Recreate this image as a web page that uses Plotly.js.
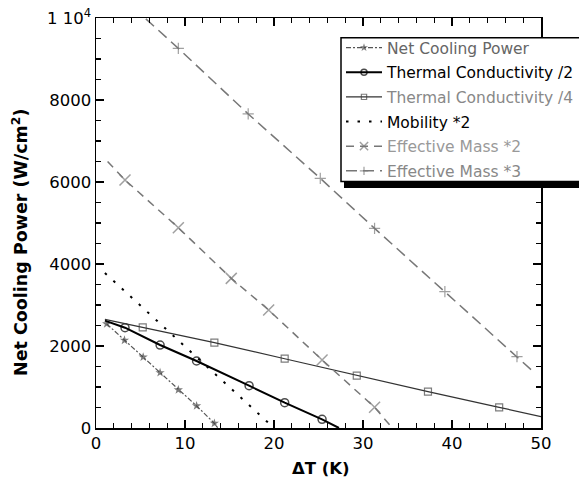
<!DOCTYPE html>
<html><head><meta charset="utf-8">
<script src="https://cdn.plot.ly/plotly-3.0.1.min.js"></script>
<style>html,body{margin:0;padding:0;background:#fff}#chart{width:579px;height:487px}</style>
</head><body><div id="chart"></div>
<script>
// Data
const seriesNames = ['Net Cooling Power','Thermal Conductivity /2','Thermal Conductivity /4','Mobility *2','Effective Mass *2','Effective Mass *3'];
const netX = [1.2, 3.2, 5.3, 7.2, 9.25, 11.3, 13.3, 13.7];
const netY = [2540, 2140, 1730, 1350, 930, 540, 115, 0];
const tc2X = [1, 3.26, 7.2, 11.3, 17.2, 21.2, 25.4, 27.3];
const tc2Y = [2620, 2446, 2024, 1634, 1032, 617, 212, 0];
const tc4X = [1, 5.25, 13.3, 21.2, 29.3, 37.3, 45.3, 50];
const tc4Y = [2650, 2456, 2081, 1690, 1276, 886, 505, 276];
const mobX = [1, 20];
const mobY = [3780, 0];
const em2X = [1.3, 3.26, 9.25, 15.2, 19.4, 25.4, 31.3, 33.3];
const em2Y = [6500, 6050, 4885, 3650, 2878, 1660, 505, 0];
const em3X = [5.6, 9.25, 17.1, 25.2, 31.3, 39.2, 47.3, 49];
const em3Y = [9980, 9260, 7660, 6090, 4870, 3325, 1740, 1400];
const yTickVals = [0, 2000, 4000, 6000, 8000, 10000];
const yTickText = ['0', '2000', '4000', '6000', '8000', '1 10<sup>4</sup>'];
const xTickVals = [0, 10, 20, 30, 40, 50];

const FONT = 'DejaVu Sans, Liberation Sans, Arial, sans-serif';

function sizes(arr, s, first, last) {
  return arr.map((v, i) => ((i === 0 && !first) || (i === arr.length - 1 && !last)) ? 0 : s);
}
const lc = (c, t) => '<span style="color:' + c + '">' + t + '</span>';

const traces = [
  {x: netX, y: netY, name: lc('#666', seriesNames[0]), legendgroup: 'g1', mode: 'lines+markers',
   line: {color: '#555', width: 1.2, dash: '5px,2px,2px,2px'},
   marker: {symbol: 'star', color: '#444', size: sizes(netX, 7, true, false), line: {width: 0}}},
  {x: tc2X, y: tc2Y, name: lc('#000', seriesNames[1]), legendgroup: 'g2', mode: 'lines+markers',
   line: {color: '#000', width: 2},
   marker: {symbol: 'circle-open', color: '#000', size: sizes(tc2X, 8, false, false), line: {width: 1.5}}},
  {x: tc4X, y: tc4Y, name: lc('#888', seriesNames[2]), legendgroup: 'g3', mode: 'lines+markers',
   line: {color: '#333', width: 1.2},
   marker: {symbol: 'square-open', color: '#444', size: sizes(tc4X, 7, false, false), line: {width: 1.2}}},
  {x: mobX, y: mobY, name: lc('#000', seriesNames[3]), legendgroup: 'g4', mode: 'lines',
   line: {color: '#000', width: 2, dash: '2.5px,9px'}},
  {x: em2X, y: em2Y, name: lc('#999', seriesNames[4]), legendgroup: 'g5', mode: 'lines+markers',
   line: {color: '#777', width: 1.5, dash: '8px,6px'},
   marker: {symbol: 'x-thin-open', color: '#777', size: sizes(em2X, 11, false, false), line: {width: 1.5, color: '#777'}}},
  {x: em3X, y: em3Y, name: lc('#888', seriesNames[5]), legendgroup: 'g6', mode: 'lines+markers',
   line: {color: '#777', width: 1.5, dash: '11px,6px'},
   marker: {symbol: 'cross-thin-open', color: '#777', size: sizes(em3X, 8, false, false), line: {width: 1.2, color: '#777'}}}
];

const axisCommon = {
  showline: true, linecolor: '#000', linewidth: 1.5, mirror: 'ticks',
  ticks: 'inside', ticklen: 8, tickwidth: 1.5, tickcolor: '#000',
  showgrid: false, zeroline: false,
  tickfont: {family: FONT, size: 16.5, color: '#000'}
};

// pixel helpers for paper coordinates of the legend frame
const L = 96, R = 541, T = 18, B = 428;
const px = v => (v - L) / (R - L);
const py = v => (B - v) / (B - T);

const layout = {
  width: 579, height: 487,
  margin: {l: L, r: 579 - R, t: T, b: 487 - B, autoexpand: false},
  paper_bgcolor: '#fff', plot_bgcolor: '#fff',
  showlegend: true,
  xaxis: Object.assign({}, axisCommon, {
    range: [0, 50], tickmode: 'array', tickvals: xTickVals,
    minor: {dtick: 2, ticklen: 5, tickwidth: 1.2, tickcolor: '#000', ticks: 'inside'}
  }),
  yaxis: Object.assign({}, axisCommon, {
    range: [0, 10000], tickmode: 'array', tickvals: yTickVals, ticktext: yTickText,
    minor: {dtick: 500, ticklen: 5, tickwidth: 1.2, tickcolor: '#000', ticks: 'inside'}
  }),
  legend: {
    x: px(341), y: py(31), xanchor: 'left', yanchor: 'top',
    bgcolor: 'rgba(0,0,0,0)', borderwidth: 0,
    font: {family: FONT, size: 15.5, color: '#000'},
    itemwidth: 36, tracegroupgap: 1.5
  },
  shapes: [
    {type: 'rect', xref: 'paper', yref: 'paper',
     x0: px(344), x1: px(620), y0: py(188), y1: py(44),
     fillcolor: '#000', line: {width: 0}, layer: 'above'},
    {type: 'rect', xref: 'paper', yref: 'paper',
     x0: px(341), x1: px(620), y0: py(181.5), y1: py(37.7),
     fillcolor: '#fff', line: {width: 1.5, color: '#000'}, layer: 'above'}
  ],
  annotations: [
    {text: '<b>Net Cooling Power (W/cm<sup>2</sup>)</b>', xref: 'paper', yref: 'paper',
     x: px(20), y: py(243), textangle: -90, showarrow: false,
     xanchor: 'center', yanchor: 'middle',
     font: {family: FONT, size: 17.5, color: '#000'}},
    {text: '<b>ΔT (K)</b>', xref: 'paper', yref: 'paper',
     x: px(321), y: py(468), showarrow: false,
     xanchor: 'center', yanchor: 'middle',
     font: {family: FONT, size: 16.5, color: '#000'}}
  ]
};

Plotly.newPlot('chart', traces, layout, {displayModeBar: false, staticPlot: true});
</script>
</body></html>
